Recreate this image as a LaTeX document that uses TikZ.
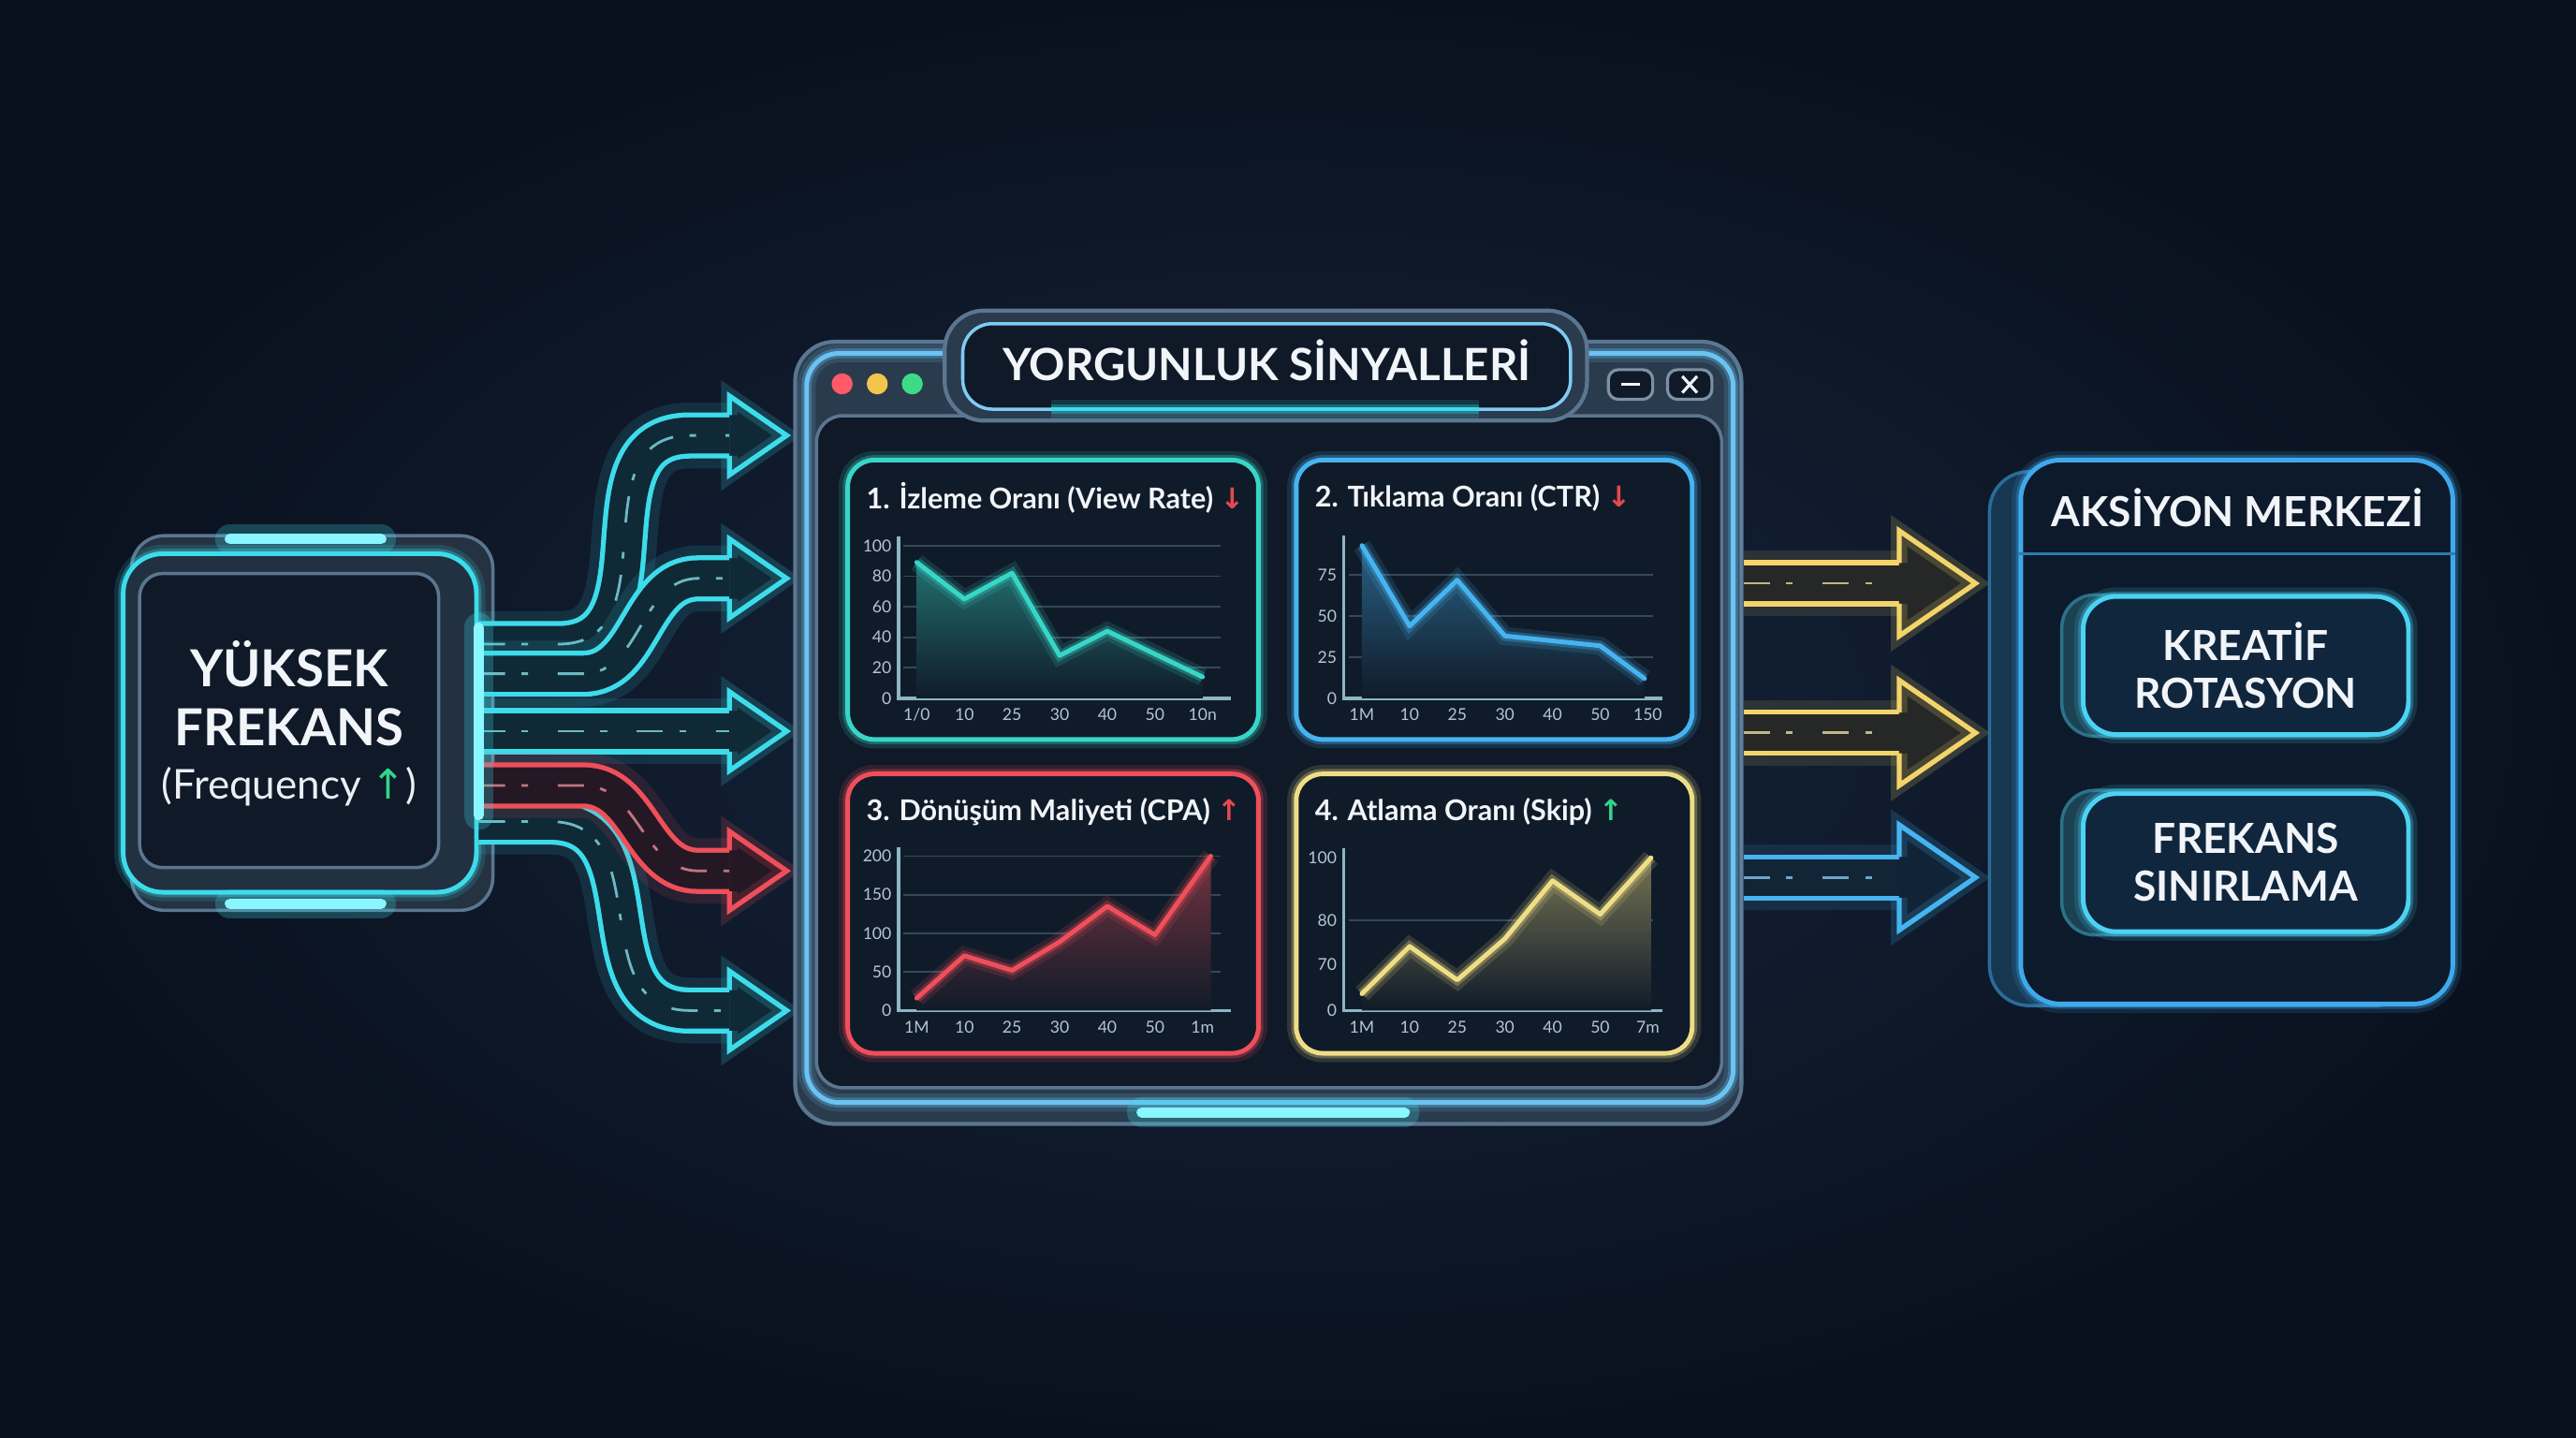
\documentclass[tikz,border=0pt]{standalone}
\usepackage{fontspec}
\setmainfont{Lato}
\newfontfamily\symfont{DejaVu Sans}
\usetikzlibrary{positioning}

\definecolor{night}{HTML}{0A111E}
\definecolor{navy}{HTML}{15253C}
\definecolor{shell}{HTML}{2A3B4D}
\definecolor{shellline}{HTML}{5C7690}
\definecolor{winbg}{HTML}{0F1928}
\definecolor{panelbg}{HTML}{101B29}
\definecolor{neoncyan}{HTML}{3DDCEB}
\definecolor{barcyan}{HTML}{8AF6FF}
\definecolor{viewteal}{HTML}{38D6C6}
\definecolor{ctrblue}{HTML}{46B4F0}
\definecolor{cpared}{HTML}{EF4F5A}
\definecolor{skipgold}{HTML}{F0DE86}
\definecolor{arrowgold}{HTML}{F2D46A}
\definecolor{actblue}{HTML}{3FA9EC}
\definecolor{actbg}{HTML}{0D1A2C}
\definecolor{btncyan}{HTML}{4CD2F2}
\definecolor{btnbg}{HTML}{10263D}
\definecolor{alert}{HTML}{E5484D}
\definecolor{rise}{HTML}{2FD58A}
\definecolor{textw}{HTML}{F1F4F8}
\definecolor{ticktext}{HTML}{B4C6D2}
\definecolor{axisline}{HTML}{8DB6C4}
\definecolor{gridline}{HTML}{34485B}
\definecolor{dotred}{HTML}{FF5A66}
\definecolor{dotyellow}{HTML}{F3C64B}
\definecolor{dotgreen}{HTML}{3DDC84}

\newcommand{\pxu}{0.17551mm} % one pixel of the 1568 wide sketch
\newcommand{\sarrow}[2]{{\symfont\color{#1}#2}}

\tikzset{
	neon/.style={draw=#1, line width=1.4pt,
		preaction={draw=#1, line width=5.5pt, draw opacity=0.15},
		preaction={draw=#1, line width=3pt, draw opacity=0.3}},
	shaft/.style={draw=#1, line width=14pt,
		preaction={draw=#1, line width=20pt, draw opacity=0.12},
		postaction={draw=#1!12!night, line width=11pt},
		postaction={draw=#1!60!white, line width=0.8pt, draw opacity=0.75,
			dash pattern=on 8pt off 5pt on 2pt off 9pt}},
	lightbar/.style={draw=barcyan, line width=3.2pt, line cap=round,
		preaction={draw=neoncyan, line width=9pt, draw opacity=0.25, line cap=round}},
	gridln/.style={draw=gridline, line width=0.5pt},
	axisln/.style={draw=axisline, line width=0.9pt},
	ticklab/.style={text=ticktext, font=\fontsize{5}{6}\selectfont, inner sep=0pt},
	ptitle/.style={text=textw, font=\fontsize{8.7}{10.5}\selectfont\bfseries, anchor=west, inner sep=0pt},
	bigtext/.style={text=textw, font=\fontsize{15.5}{18}\selectfont\bfseries, align=center, inner sep=0pt},
	freqtext/.style={text=textw!90!ticktext, font=\fontsize{12.5}{14}\selectfont, inner sep=0pt},
	wintitle/.style={text=textw, font=\fontsize{13.5}{16}\selectfont\bfseries, inner sep=0pt},
	acttext/.style={text=textw, font=\fontsize{12.6}{14.5}\selectfont\bfseries, align=center, inner sep=0pt},
	srcbox/.style={neon=neoncyan, fill=shell!70!winbg, rounded corners=12pt, inner sep=0pt,
		minimum width=215*\pxu, minimum height=206*\pxu},
	shellbox/.style={fill=shell, draw=shellline, line width=1.2pt, rounded corners=12pt, inner sep=0pt,
		minimum width=576*\pxu, minimum height=476*\pxu},
	actbox/.style={neon=actblue, fill=actbg, rounded corners=12pt, inner sep=0pt,
		minimum width=263*\pxu, minimum height=331*\pxu},
	btnbox/.style={neon=btncyan, fill=btnbg, rounded corners=10pt, acttext,
		minimum width=198*\pxu, minimum height=84*\pxu},
	winbtn/.style={draw=shellline!80!white, fill=winbg, line width=0.9pt, rounded corners=3pt}
}

\newcommand{\headat}[3] % coordinate, colour, half height of the head
{
	\fill[#2!12!night] ([yshift=#3]#1) -- ([xshift=1.45*#3]#1) -- ([yshift=-#3]#1) -- cycle;
	\draw[#2, line width=1.5pt, line join=miter,
		preaction={draw=#2, line width=5pt, draw opacity=0.18}]
		([yshift=6.2pt]#1) -- ([yshift=#3]#1) -- ([xshift=1.45*#3]#1)
		-- ([yshift=-#3]#1) -- ([yshift=-6.2pt]#1);
}
\newcommand{\panelframe}[5] % x1, y1, x2, y2, colour
{
	\draw[neon=#5, fill=panelbg, rounded corners=8pt] (#1,#2) rectangle (#3,#4);
}
\newcommand{\chartframe}[4] % axis top, axis width, grid values, x labels
{
	\foreach \v in {#3} \draw[gridln] (3,\v) -- (#2-6,\v);
	\draw[axisln] (0,#1) -- (0,0) -- (#2,0);
	\foreach \lab [count=\i from 0] in {#4}
		\node[ticklab, yshift=-5pt] (tx\i) at (11+29*\i,0) {\lab};
}
\newcommand{\chartdata}[2] % colour, points
{
	\shade[top color=#1!45!panelbg, bottom color=panelbg] (11,0) -- plot coordinates {#2} |- (11,0);
	\draw[neon=#1, line join=round, line cap=round] plot coordinates {#2};
}

\begin{document}
\begin{tikzpicture}[x=0.17551mm, y=-0.17551mm]
	% sketch pixels, y downwards
	\useasboundingbox (0,0) rectangle (1568,875);
	\fill[night] (0,0) rectangle (1568,875);
	\shade[inner color=navy, outer color=night] (0,0) rectangle (1568,875);
	
	% source block
	\draw[fill=shell!85!black, draw=shellline, line width=1pt, rounded corners=10pt] (80,326) rectangle (300,554);
	\node[srcbox] (src) at (182.5,440) {};
	\draw[draw=shellline, fill=winbg, line width=1pt, rounded corners=7pt] (85,349) rectangle (267,528);
	\node[bigtext] (srctxt) at (176,422) {YÜKSEK\\FREKANS};
	\node[freqtext, below=6pt of srctxt] (freq) {(Frequency \sarrow{rise}{↑})};
	\draw[lightbar] (140,328) -- (232,328);
	\draw[lightbar] (140,550) -- (232,550);
	
	% fan of arrows
	\coordinate (h1) at (444,265);
	\coordinate (h2) at (444,352);
	\coordinate (h3) at (444,445);
	\coordinate (h4) at (444,530);
	\coordinate (h5) at (444,615);
	\draw[shaft=neoncyan] (src.east |- 0,392) -- (340,392) to[out=0,in=180,looseness=1.2] (420,265) -- (h1);
	\draw[shaft=neoncyan] (src.east |- 0,410) -- (355,410) to[out=0,in=180] (425,352) -- (h2);
	\draw[shaft=neoncyan] (src.east |- 0,445) -- (h3);
	\draw[shaft=neoncyan] (src.east |- 0,500) -- (335,500) to[out=0,in=180,looseness=1.2] (420,615) -- (h5);
	\draw[shaft=cpared] (src.east |- 0,478) -- (355,478) to[out=0,in=180] (425,530) -- (h4);
	\headat{h1}{neoncyan}{12pt}
	\headat{h2}{neoncyan}{12pt}
	\headat{h3}{neoncyan}{12pt}
	\headat{h4}{cpared}{12pt}
	\headat{h5}{neoncyan}{12pt}
	\draw[lightbar] (src.east |- 0,382) -- (src.east |- 0,496);
	
	% window
	\node[shellbox] (win) at (772,446) {};
	\draw[neon=ctrblue!80!white, rounded corners=10pt] (491,215) rectangle (1055,671);
	\draw[draw=shellline, fill=winbg, line width=1pt, rounded corners=8pt] (497,253) rectangle (1048,662);
	\draw[fill=shell, draw=shellline, line width=1.2pt, rounded corners=12pt] (575,189) rectangle (966,256);
	\draw[fill=winbg, draw=ctrblue!70!white, line width=1pt, rounded corners=9pt] (586,197) rectangle (956,249);
	\draw[neon=neoncyan] (640,249) -- (900,249);
	\node[wintitle] (wtitle) at (771,219) {YORGUNLUK SİNYALLERİ};
	\fill[dotred] (512.6,233.6) circle (6.4);
	\fill[dotyellow] (534,233.6) circle (6.4);
	\fill[dotgreen] (555.3,233.6) circle (6.4);
	\draw[winbtn] (979,225) rectangle (1006,243);
	\draw[textw, line width=0.9pt] (987,234) -- (998,234);
	\draw[winbtn] (1015,225) rectangle (1042,243);
	\draw[textw, line width=0.9pt] (1024,229) -- (1033,239);
	\draw[textw, line width=0.9pt] (1024,239) -- (1033,229);
	\draw[lightbar] (695,677) -- (855,677);
	
	% four signal panels
	\panelframe{516}{280}{766}{450}{viewteal}
	\panelframe{789}{280}{1030}{450}{ctrblue}
	\panelframe{516}{471}{766}{641}{cpared}
	\panelframe{789}{471}{1030}{641}{skipgold}
	\node[ptitle] (t1) at (527,303) {1. İzleme Oranı (View Rate) \sarrow{alert}{↓}};
	\node[ptitle] (t2) at (800,303) {2. Tıklama Oranı (CTR) \sarrow{alert}{↓}};
	\node[ptitle] (t3) at (527,494) {3. Dönüşüm Maliyeti (CPA) \sarrow{alert}{↑}};
	\node[ptitle] (t4) at (800,494) {4. Atlama Oranı (Skip) \sarrow{rise}{↑}};
	
	\begin{scope}[shift={(547,425)}, y=0.1632mm]
		\chartframe{106}{202}{20,40,60,80,100}{1/0,10,25,30,40,50,10n}
		\foreach \v in {0,20,...,100} \node[ticklab, anchor=east] (ya\v) at (-4,\v) {\v};
		\chartdata{viewteal}{(11,89) (40,65) (69,82) (98,28) (127,44) (156,29) (185,14)}
	\end{scope}
	\begin{scope}[shift={(818,425)}, y=0.1755mm]
		\chartframe{99}{194}{25,50,75}{1M,10,25,30,40,50,150}
		\foreach \v in {0,25,50,75} \node[ticklab, anchor=east] (yb\v) at (-4,\v) {\v};
		\chartdata{ctrblue}{(11,93) (40,44) (69,72) (98,38) (127,35) (156,32) (183,12)}
	\end{scope}
	\begin{scope}[shift={(547,615)}, y=0.0825mm]
		\chartframe{211}{202}{50,100,150,200}{1M,10,25,30,40,50,1m}
		\foreach \v in {0,50,...,200} \node[ticklab, anchor=east] (yc\v) at (-4,\v) {\v};
		\chartdata{cpared}{(11,16) (40,71) (69,52) (98,89) (127,135) (156,98) (190,200)}
	\end{scope}
	\begin{scope}[shift={(818,615)}, y=0.1632mm]
		\chartframe{106}{194}{59}{1M,10,25,30,40,50,7m}
		\foreach \v/\lab in {0/0,30/70,59/80,100/100} \node[ticklab, anchor=east] (yd\v) at (-4,\v) {\lab};
		\chartdata{skipgold}{(11,11) (40,42) (69,20) (98,47) (127,85) (156,63) (187,100)}
	\end{scope}
	
	% arrows to the action centre
	\coordinate (r1) at (1156,355);
	\coordinate (r2) at (1156,446);
	\coordinate (r3) at (1156,534);
	\draw[shaft=arrowgold] (win.east |- 0,355) -- (r1);
	\draw[shaft=arrowgold] (win.east |- 0,446) -- (r2);
	\draw[shaft=ctrblue] (win.east |- 0,534) -- (r3);
	\headat{r1}{arrowgold}{16pt}
	\headat{r2}{arrowgold}{16pt}
	\headat{r3}{ctrblue}{16pt}
	
	% action centre
	\draw[fill=actblue!25!night, draw=actblue!60!night, line width=1pt, rounded corners=12pt] (1211,287) rectangle (1470,612);
	\node[actbox] (act) at (1361.5,445.5) {};
	\node[acttext] (atitle) at (1362,309) {AKSİYON MERKEZİ};
	\draw[actblue!70!night, line width=1pt] (act.west |- 0,337) -- (act.east |- 0,337);
	\draw[fill=btncyan!25!night, draw=btncyan!50!night, line width=1pt, rounded corners=10pt] (1255,362) rectangle (1459,448);
	\node[btnbox] (b1) at (1367,405) {KREATİF\\ROTASYON};
	\draw[fill=btncyan!25!night, draw=btncyan!50!night, line width=1pt, rounded corners=10pt] (1255,481) rectangle (1459,569);
	\node[btnbox] (b2) at (1367,525) {FREKANS\\SINIRLAMA};
\end{tikzpicture}
\end{document}
